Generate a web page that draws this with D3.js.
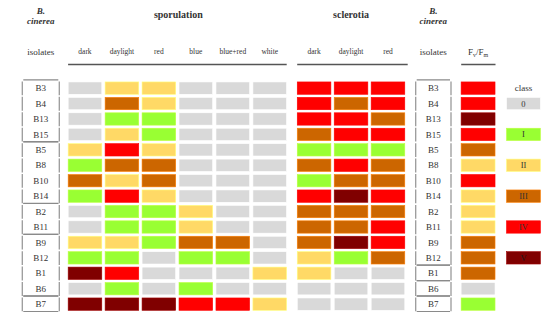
<!DOCTYPE html>
<html><head><meta charset="utf-8">
<script src="https://cdn.jsdelivr.net/npm/d3@7"></script>
<style>body{margin:0;background:#fff}svg{display:block}text{font-family:"Liberation Serif","Times New Roman",serif}</style>
</head><body><svg id="c" width="554" height="322"></svg>
<script>
const isolates = ["B3","B4","B13","B15","B5","B8","B10","B14","B2","B11","B9","B12","B1","B6","B7"];
const sporConditions = ["dark","daylight","red","blue","blue+red","white"];
const sclerConditions = ["dark","daylight","red"];
const classes = ["0","I","II","III","IV","V"];
const classColors = ["#d9d9d9","#99ff33","#ffd966","#cc6600","#ff0000","#800000"];
// class index per isolate (rows) per condition (columns)
const sporulation = [
  [0,2,2,0,0,0],[0,3,2,0,0,0],[0,1,1,0,0,0],[0,2,1,0,0,0],
  [2,4,2,0,0,0],[1,3,3,0,0,0],[3,2,3,0,0,0],[1,4,2,0,0,0],
  [0,1,1,2,0,0],[0,1,1,2,0,0],[2,2,1,3,3,0],[1,1,0,1,1,0],
  [5,4,0,0,0,2],[0,1,0,1,0,0],[5,5,5,4,4,2]
];
const sclerotia = [
  [4,4,4],[4,3,4],[4,4,3],[3,4,4],[1,1,1],[3,4,3],[1,3,3],[4,5,4],
  [3,3,3],[3,3,4],[3,5,4],[2,1,3],[2,0,0],[0,0,0],[0,0,0]
];
const fvfm = [4,4,5,4,3,2,4,2,2,2,3,3,3,0,1];
const leftGroups = [["B3","B4","B13","B15"],["B5","B8","B10","B14"],["B2","B11"],["B9","B12","B1","B6"],["B7"]];
const rightGroups = [["B3","B4","B13","B15","B5","B8","B10","B14","B2","B11","B9","B12"],["B1"],["B6"],["B7"]];

const TXT = "#333333";
const svg = d3.select("#c");
const step = 15.43;
const y = d3.scaleBand().domain(isolates).range([80.4, 80.4 + 15*step]).paddingInner(0.2).paddingOuter(0.1);
const bw = y.bandwidth();
const cstep = 36.95;
const xs = d3.scaleBand().domain(sporConditions).range([66.5, 66.5 + 6*cstep]).paddingInner(0.09).paddingOuter(0.045);
const xc = d3.scaleBand().domain(sclerConditions).range([295.6, 295.6 + 3*cstep]).paddingInner(0.09).paddingOuter(0.045);
const xf = d3.scaleBand().domain(["Fv/Fm"]).range([459.6, 459.6 + cstep]).paddingOuter(0.045);
const xl = d3.scaleBand().domain(["class"]).range([505, 505 + cstep]).paddingOuter(0.045);
const color = i => classColors[i];

function cells(data, xScale, conds) {
  const flat = [];
  data.forEach((row, r) => row.forEach((v, c) => flat.push({iso: isolates[r], cond: conds[c], v})));
  svg.append("g").selectAll("rect").data(flat).join("rect")
    .attr("x", d => xScale(d.cond)).attr("y", d => y(d.iso))
    .attr("width", xScale.bandwidth()).attr("height", bw)
    .attr("fill", d => color(d.v))
    .attr("stroke", d => d3.color(color(d.v)).brighter(0.6)).attr("stroke-width", 0.6);
}
cells(sporulation, xs, sporConditions);
cells(sclerotia, xc, sclerConditions);
cells(fvfm.map(v => [v]), xf, ["Fv/Fm"]);

// legend
const lg = svg.append("g");
lg.append("text").attr("x", xl("class") + xl.bandwidth()/2).attr("y", y(isolates[0]) + bw/2 + 3)
  .attr("text-anchor", "middle").attr("font-size", 9).attr("fill", TXT).text("class");
classes.forEach((c, i) => {
  const iso = isolates[1 + i*2];
  lg.append("rect").attr("x", xl("class")).attr("y", y(iso)).attr("width", xl.bandwidth()).attr("height", bw)
    .attr("fill", classColors[i]).attr("stroke", d3.color(classColors[i]).brighter(0.6)).attr("stroke-width", 0.6);
  lg.append("text").attr("x", xl("class") + xl.bandwidth()/2).attr("y", y(iso) + bw/2 + 3)
    .attr("text-anchor", "middle").attr("font-size", 8.5).attr("fill", i === 5 ? "#1a1a1a" : TXT).text(c);
});

// isolate columns
function isoColumn(x0, x1, groups) {
  const g = svg.append("g");
  const cx = (x0 + x1)/2;
  g.selectAll("text").data(isolates).join("text")
    .attr("x", cx).attr("y", d => y(d) + bw/2 + 3.2).attr("text-anchor", "middle")
    .attr("font-size", 9).attr("fill", TXT).text(d => d);
  isolates.forEach(d => {
    [x0, x1].forEach(x => g.append("line").attr("x1", x).attr("x2", x)
      .attr("y1", y(d) - 0.5).attr("y2", y(d) + bw + 1).attr("stroke", "#9a9a9a").attr("stroke-width", 1.3));
  });
  groups.forEach(gr => {
    const top = y(gr[0]) - 2, bot = y(gr[gr.length-1]) + bw + 1.2;
    [top, bot].forEach(yy => g.append("line").attr("x1", x0 + 1).attr("x2", x1 - 1)
      .attr("y1", yy).attr("y2", yy).attr("stroke", "#8a8a8a").attr("stroke-width", 1.2));
  });
}
isoColumn(22.3, 59.3, leftGroups);
isoColumn(415.7, 451, rightGroups);

// headers
const hdr = svg.append("g");
function species(cx) {
  hdr.append("text").attr("x", cx).attr("y", 14).attr("text-anchor", "middle").attr("font-size", 9)
    .attr("font-weight", "bold").attr("font-style", "italic").attr("fill", TXT).text("B.");
  hdr.append("text").attr("x", cx).attr("y", 23.5).attr("text-anchor", "middle").attr("font-size", 9)
    .attr("font-weight", "bold").attr("font-style", "italic").attr("fill", TXT).text("cinerea");
  hdr.append("text").attr("x", cx).attr("y", 54.5).attr("text-anchor", "middle").attr("font-size", 9)
    .attr("fill", TXT).text("isolates");
}
species(40.8); species(433.3);
hdr.append("text").attr("x", (xs.range()[0] + xs.range()[1])/2 + 1).attr("y", 18).attr("text-anchor", "middle")
  .attr("font-size", 10).attr("font-weight", "bold").attr("fill", TXT).text("sporulation");
hdr.append("text").attr("x", (xc.range()[0] + xc.range()[1])/2).attr("y", 18).attr("text-anchor", "middle")
  .attr("font-size", 10).attr("font-weight", "bold").attr("fill", TXT).text("sclerotia");
function condLabels(xScale, conds) {
  hdr.append("g").selectAll("text").data(conds).join("text")
    .attr("x", d => xScale(d) + xScale.bandwidth()/2).attr("y", 54).attr("text-anchor", "middle")
    .attr("font-size", 7.5).attr("fill", TXT).text(d => d);
}
condLabels(xs, sporConditions);
condLabels(xc, sclerConditions);
const fv = hdr.append("text").attr("x", xf("Fv/Fm") + xf.bandwidth()/2).attr("y", 54.5).attr("text-anchor", "middle")
  .attr("font-size", 9).attr("fill", TXT);
fv.append("tspan").text("F");
fv.append("tspan").attr("font-size", 6).attr("dy", 2).text("v");
fv.append("tspan").attr("dy", -2).text("/F");
fv.append("tspan").attr("font-size", 6).attr("dy", 2).text("m");
// underlines
[[xs.range()[0] + 1.6, 286.7],[xc.range()[0] + 1.6, 407.7],[xf.range()[0] + 1.6, 495.5]].forEach(([a,b]) =>
  hdr.append("line").attr("x1", a).attr("x2", b).attr("y1", 64.5).attr("y2", 64.5).attr("stroke", "#555").attr("stroke-width", 1.3));
</script></body></html>
